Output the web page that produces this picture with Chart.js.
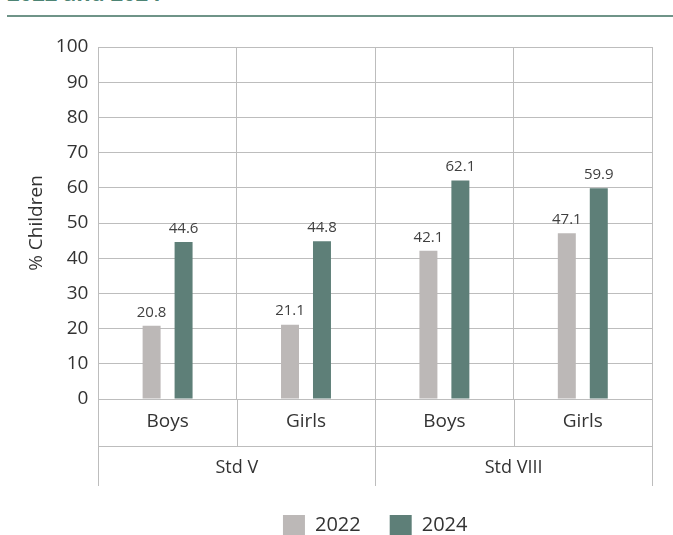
<!DOCTYPE html>
<html>
<head>
<meta charset="utf-8">
<script src="https://cdn.jsdelivr.net/npm/chart.js@4.4.1/dist/chart.umd.min.js"></script>
<style>
    body { margin: 0; background: #fff; width: 673px; height: 535px; overflow: hidden; position: relative; font-family: "Open Sans", sans-serif; }
    #heading { position: absolute; left: 7px; top: -23px; font-size: 22px; font-weight: bold; color: #4d8474; white-space: nowrap; }
    #rule { position: absolute; left: 7px; right: 0; top: 15px; height: 2px; background: #6f9488; }
    #wrap { position: absolute; left: 0; top: 0; width: 673px; height: 535px; }
</style>
</head>
<body>
<div id="heading">2022 and 2024</div>
<div id="rule"></div>
<div id="wrap"><canvas id="myChart"></canvas></div>
<script>
var categorias = ['Boys', 'Girls', 'Boys', 'Girls'];
var grupos = ['Std V', 'Std VIII'];
var anos = ['2022', '2024'];
var valores2022 = [20.8, 21.1, 42.1, 47.1];
var valores2024 = [44.6, 44.8, 62.1, 59.9];
var cores = ['#bcb8b7', '#5e7f78'];

var corLinha = '#bdbdbd';
var corTexto = '#333333';

// rotulos em cima das barras
var rotulos = {
    id: 'rotulos',
    afterDatasetsDraw: function (chart) {
        var ctx = chart.ctx;
        ctx.save();
        ctx.font = '15px "Open Sans"';
        ctx.fillStyle = '#404040';
        ctx.textAlign = 'center';
        ctx.textBaseline = 'bottom';
        chart.data.datasets.forEach(function (ds, i) {
            chart.getDatasetMeta(i).data.forEach(function (bar, j) {
                ctx.fillText(ds.data[j].toFixed(1), bar.x, bar.y - 6);
            });
        });
        ctx.restore();
    }
};

// linhas da tabela abaixo do grafico
var tabela = {
    id: 'tabela',
    afterDraw: function (chart) {
        var ctx = chart.ctx;
        var x = chart.scales.x;
        var x2 = chart.scales.x2;
        var passo = (x.right - x.left) / categorias.length;
        ctx.save();
        ctx.strokeStyle = corLinha;
        ctx.lineWidth = 1;
        ctx.beginPath();
        for (var i = 0; i <= categorias.length; i++) {
            var px = Math.round(x.left + passo * i) + 0.5;
            ctx.moveTo(px, chart.chartArea.bottom);
            if (i % 2 == 0) {
                ctx.lineTo(px, x2.bottom);
            } else {
                ctx.lineTo(px, x.bottom);
            }
        }
        ctx.moveTo(x.left, Math.round(x.bottom) + 0.5);
        ctx.lineTo(x.right, Math.round(x.bottom) + 0.5);
        ctx.stroke();
        ctx.restore();
    }
};

// legenda centrada na area do grafico
var centraLegenda = {
    id: 'centraLegenda',
    afterLayout: function (chart) {
        var lg = chart.legend;
        lg.left = chart.chartArea.left;
        lg.right = chart.chartArea.right;
        lg.width = lg.right - lg.left;
    }
};

var ctx = document.getElementById('myChart').getContext('2d');
var myChart = new Chart(ctx, {
    type: 'bar',
    data: {
        labels: categorias,
        datasets: [
            { label: anos[0], data: valores2022, backgroundColor: cores[0] },
            { label: anos[1], data: valores2024, backgroundColor: cores[1] }
        ]
    },
    options: {
        responsive: true,
        maintainAspectRatio: false,
        animation: false,
        categoryPercentage: 0.462,
        barPercentage: 0.5625,
        layout: { padding: { top: 47, left: 18, right: 21, bottom: -11 } },
        scales: {
            x: {
                grid: { color: corLinha, drawTicks: false },
                border: { display: false },
                ticks: { font: { size: 19, family: 'Open Sans' }, color: corTexto, padding: 11 },
                afterFit: function (scale) { scale.height = 47; }
            },
            x2: {
                type: 'category',
                position: 'bottom',
                labels: grupos,
                grid: { display: false },
                border: { display: false },
                ticks: { font: { size: 18, family: 'Open Sans' }, color: corTexto, padding: 3 },
                afterFit: function (scale) { scale.height = 40; }
            },
            y: {
                min: 0,
                max: 100,
                ticks: { stepSize: 10, font: { size: 19, family: 'Open Sans' }, color: corTexto, padding: 10 },
                grid: { color: corLinha, drawTicks: false },
                border: { display: false },
                title: { display: true, text: '% Children', font: { size: 19, family: 'Open Sans' }, color: corTexto, padding: { top: 7, bottom: -2 } }
            }
        },
        plugins: {
            legend: {
                position: 'bottom',
                labels: { boxWidth: 22, boxHeight: 21, padding: 29, font: { size: 20, family: 'Open Sans' }, color: corTexto }
            },
            tooltip: { enabled: false }
        }
    },
    plugins: [rotulos, tabela, centraLegenda]
});
</script>
</body>
</html>
